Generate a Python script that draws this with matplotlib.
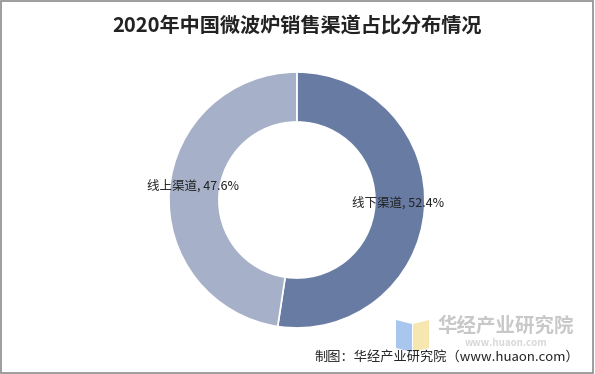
import matplotlib.pyplot as plt
from matplotlib.patches import Rectangle, Polygon

plt.rcParams['font.family'] = ['Noto Sans CJK SC', 'DejaVu Sans']

# 数据
channels = ['线下渠道', '线上渠道']
shares = [52.4, 47.6]
colors = ['#687ca3', '#a6b1c9']

fig = plt.figure(figsize=(5.95, 3.74), dpi=100)

# 外框
fig.patches.append(Rectangle((0.002, 0.003), 0.995, 0.994, transform=fig.transFigure,
                             fill=False, edgecolor='#8c8c8c', linewidth=1.2))

# 标题
fig.text(0.5, 0.93, '2020年中国微波炉销售渠道占比分布情况', ha='center', va='center',
         fontsize=14.5, fontweight='bold', color='#222222')

# 环形图
ax = fig.add_axes([0.284, 0.123, 0.430, 0.6845])
ax.pie(shares, colors=colors, startangle=90, counterclock=False, radius=1,
       wedgeprops=dict(width=0.39, edgecolor='white', linewidth=1.2))
ax.set_xlim(-1, 1)
ax.set_ylim(-1, 1)
ax.set_aspect('equal')
ax.axis('off')

# 数据标签
label_pos = [(0.79, -0.02), (-0.81, 0.11)]
for name, v, (lx, ly) in zip(channels, shares, label_pos):
    ax.text(lx, ly, f'{name}, {v}%', ha='center', va='center', fontsize=9, color='#222222')

# 水印
fig.patches.append(Polygon([(396/595, 1-320/374), (412/595, 1-324/374), (412/595, 1-352/374), (396/595, 1-348/374)],
                           closed=True, transform=fig.transFigure, facecolor='#a9c6ee', edgecolor='none'))
fig.patches.append(Polygon([(413/595, 1-324/374), (429/595, 1-320/374), (429/595, 1-348/374), (413/595, 1-352/374)],
                           closed=True, transform=fig.transFigure, facecolor='#f6e7b0', edgecolor='none'))
fig.text(506/595, 1-326/374, '华经产业研究院', ha='center', va='center', fontsize=14,
         fontweight='bold', color='#c8c8c8')
fig.text(506/595, 1-342.5/374, 'www.huaon.com', ha='center', va='center', fontsize=7,
         fontweight='bold', color='#d8d8d8')

# 来源
fig.text(579/595, 1-357/374, '制图：华经产业研究院（www.huaon.com）', ha='right', va='center',
         fontsize=9.5, color='#222222')

fig.savefig('out.png', dpi=100)
